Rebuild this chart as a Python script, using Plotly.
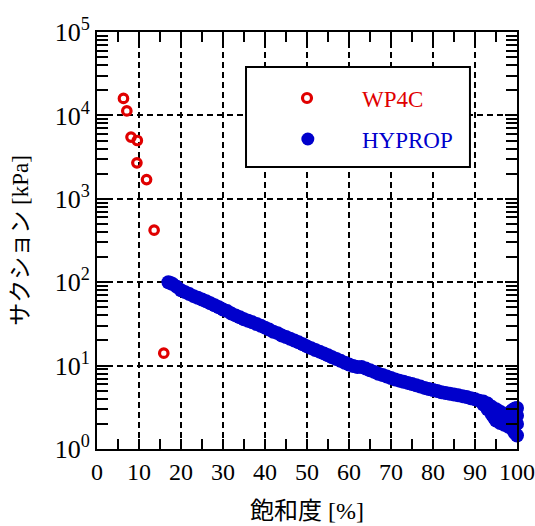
import plotly.graph_objects as go

# ---- data ----
wp4c_sat = [6.3, 7.1, 8.1, 9.6, 9.5, 11.8, 13.6, 15.9]
wp4c_suc = [16000, 11300, 5500, 5000, 2700, 1700, 420, 14.1]

hyprop_sat = [17, 17.5, 18, 19, 20, 21, 22, 23, 24, 25, 26, 27, 28, 29, 30,
              31, 32, 33, 34, 35, 36, 37, 38, 39, 40, 41, 42, 43, 44, 45,
              46, 47, 48, 49, 50, 51, 52, 53, 54, 55, 56, 57, 58, 59, 60,
              61, 62, 63, 64, 65, 66, 67, 68, 69, 70, 71, 72, 73, 74, 75,
              76, 77, 78, 79, 80, 81, 82, 83, 84, 85, 86, 87, 88, 89, 90,
              91, 92, 93, 94, 95, 96, 97, 97.5, 98, 98.5, 99, 99.5, 100,
              92, 93, 94, 94.5, 95, 96, 97, 98, 99, 99.5, 100,
              95.5, 96.5, 97.5, 98.5, 99, 99.5, 100, 100]
hyprop_suc = [100, 98, 95, 88, 80, 76, 72, 68, 65, 62, 59, 56, 53, 50, 47,
              45, 42, 40, 38, 36, 34.5, 33, 31.5, 30, 28.5, 27, 25.5, 24.5, 23, 22,
              21, 20, 19, 18, 17, 16.2, 15.4, 14.7, 14, 13.3, 12.6, 12, 11.4, 10.8, 10.3,
              9.9, 9.6, 9.6, 9.2, 8.8, 8.4, 8.0, 7.7, 7.4, 7.1, 6.8, 6.6, 6.4, 6.2, 6.0,
              5.8, 5.6, 5.4, 5.25, 5.1, 4.95, 4.8, 4.7, 4.6, 4.5, 4.4, 4.3, 4.2, 4.05, 3.95,
              3.8, 3.7, 3.5, 3.2, 3.0, 2.8, 2.6, 2.6, 2.65, 2.8, 2.95, 3.05, 3.1,
              3.4, 3.0, 2.6, 2.4, 2.2, 2.05, 1.95, 1.85, 1.7, 1.55, 1.45,
              2.5, 2.3, 2.2, 2.2, 2.3, 2.2, 2.0, 2.5]

x_ticks = [0, 10, 20, 30, 40, 50, 60, 70, 80, 90, 100]
y_ticks = [1, 10, 100, 1000, 10000, 100000]
y_ticktext = ["10<sup>0</sup>", "10<sup>1</sup>", "10<sup>2</sup>",
              "10<sup>3</sup>", "10<sup>4</sup>", "10<sup>5</sup>"]
y_minor_mult = [2, 3, 4, 5, 6, 7, 8, 9]
y_minor = [m * d for d in y_ticks[:-1] for m in y_minor_mult]

RED = "#E00000"
BLUE = "#0000CC"
SERIF = "Liberation Serif, Noto Sans CJK JP"

fig = go.Figure()
fig.add_trace(go.Scatter(x=hyprop_sat, y=hyprop_suc, mode="markers", name="HYPROP",
                         marker=dict(symbol="circle", size=14, color=BLUE, line=dict(width=0)),
                         cliponaxis=False))
fig.add_trace(go.Scatter(x=wp4c_sat, y=wp4c_suc, mode="markers", name="WP4C",
                         marker=dict(symbol="circle-open", size=8.5, color=RED, line=dict(width=3.2, color=RED)),
                         cliponaxis=False))

axis_common = dict(showline=True, linecolor="black", linewidth=2, mirror="ticks",
                   ticks="inside", tickcolor="black", tickwidth=2,
                   showgrid=True, gridcolor="black", gridwidth=1.8, griddash="6px,4px",
                   zeroline=False)

fig.update_xaxes(range=[0, 100], tickmode="array", tickvals=x_ticks, ticklen=10,
                 tickfont=dict(family=SERIF, size=24, color="black"),
                 minor=dict(dtick=5, ticks="inside", ticklen=10, tickwidth=2, tickcolor="black", showgrid=False),
                 **axis_common)
fig.update_yaxes(type="log", range=[0, 5], tickmode="array", tickvals=y_ticks, ticktext=y_ticktext,
                 ticklen=12, tickfont=dict(family=SERIF, size=26, color="black"),
                 minor=dict(tickmode="array", tickvals=y_minor, ticks="inside", ticklen=11, tickwidth=2,
                            tickcolor="black", showgrid=False),
                 **axis_common)

# legend box (manual)
shapes = [
    dict(type="rect", xref="paper", yref="paper", x0=0.3548, x1=0.888, y0=0.676, y1=0.916,
         line=dict(color="black", width=2), fillcolor="white", layer="above"),
    dict(type="circle", xref="paper", yref="paper", xsizemode="pixel", ysizemode="pixel",
         xanchor=0.5, yanchor=0.8417, x0=-4.5, x1=4.5, y0=-4.5, y1=4.5,
         line=dict(color=RED, width=3.2), fillcolor="rgba(0,0,0,0)", layer="above"),
    dict(type="circle", xref="paper", yref="paper", xsizemode="pixel", ysizemode="pixel",
         xanchor=0.502, yanchor=0.7434, x0=-6.5, x1=6.5, y0=-6.5, y1=6.5,
         line=dict(color=BLUE, width=0), fillcolor=BLUE, layer="above"),
]
annotations = [
    dict(text="WP4C", xref="paper", yref="paper", x=0.626, y=0.839, xanchor="left", yanchor="middle",
         showarrow=False, font=dict(family=SERIF, size=23, color=RED)),
    dict(text="HYPROP", xref="paper", yref="paper", x=0.626, y=0.741, xanchor="left", yanchor="middle",
         showarrow=False, font=dict(family=SERIF, size=23, color=BLUE)),
    dict(text="飽和度 [%]", xref="paper", yref="paper", x=0.5, y=-0.1487, xanchor="center", yanchor="middle",
         showarrow=False, font=dict(family=SERIF, size=24, color="black")),
    dict(text="サクション [kPa]", xref="paper", yref="paper", x=-0.183, y=0.5, xanchor="center", yanchor="middle",
         textangle=-90, showarrow=False, font=dict(family=SERIF, size=23, color="black")),
]

fig.update_layout(width=535, height=526, margin=dict(l=97, r=18, t=32, b=77, autoexpand=False),
                  paper_bgcolor="white", plot_bgcolor="white", showlegend=False,
                  shapes=shapes, annotations=annotations)

fig.write_html("out.html")
